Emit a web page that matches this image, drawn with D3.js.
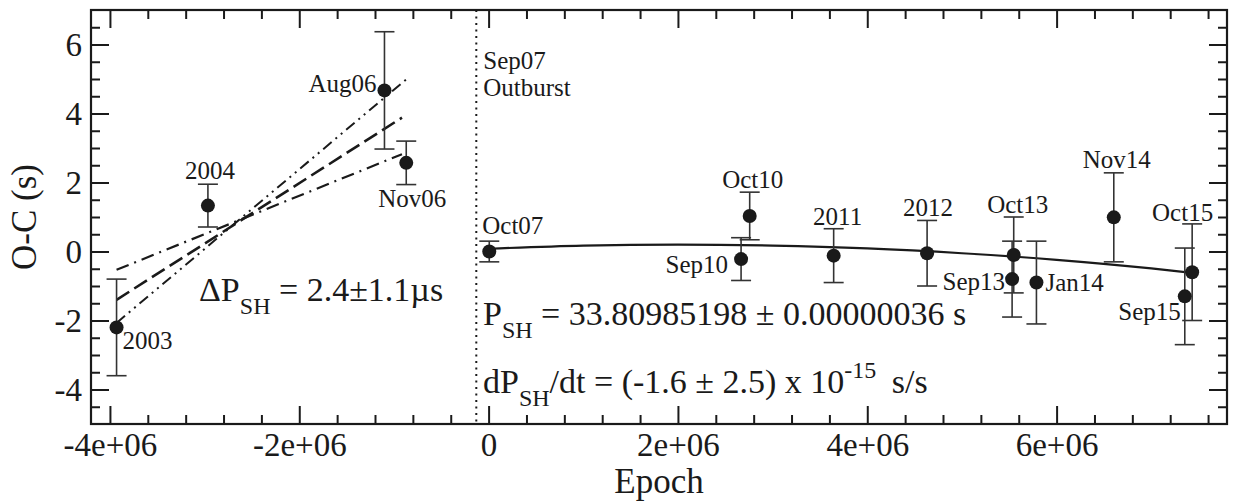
<!DOCTYPE html>
<html>
<head>
<meta charset="utf-8">
<script src="https://cdn.jsdelivr.net/npm/d3@7"></script>
<style>
  html, body { margin: 0; padding: 0; background: #fff; }
  svg { display: block; }
</style>
</head>
<body>
<svg id="chart" width="1233" height="503"></svg>
<script>
// ---------- data ----------
const preEpoch  = [-3.93e6, -2.965e6, -1.10e6, -0.87e6];
const preOC     = [-2.2, 1.33, 4.67, 2.57];
const preErr    = [1.4, 0.62, 1.7, 0.63];
const preLabels = ["2003", "2004", "Aug06", "Nov06"];

const postEpoch  = [0.007e6, 2.667e6, 2.758e6, 3.645e6, 4.632e6, 5.53e6, 5.547e6, 5.787e6, 6.604e6, 7.354e6, 7.432e6];
const postOC     = [0.0, -0.22, 1.03, -0.12, -0.05, -0.8, -0.1, -0.9, 0.99, -1.3, -0.6];
const postErr    = [0.3, 0.62, 0.69, 0.78, 0.95, 1.1, 1.1, 1.2, 1.29, 1.4, 1.4];
const postLabels = ["Oct07", "Sep10", "Oct10", "2011", "2012", "Sep13", "Oct13", "Jan14", "Nov14", "Sep15", "Oct15"];

// fitted timing solution after the outburst
const fitEpoch = [0, 1e6, 2e6, 3e6, 4e6, 5e6, 6e6, 7e6, 7.43e6];
const fitOC    = [0.08, 0.17, 0.20, 0.17, 0.09, -0.05, -0.24, -0.49, -0.62];

// pre-outburst linear fits: [epoch start, O-C start, epoch end, O-C end]
const fitDashed     = [-3.93e6, -1.40, -0.915e6, 3.88];
const fitDashDotDot = [-3.93e6, -2.07, -0.87e6, 4.99];
const fitDashDot    = [-3.93e6, -0.53, -0.915e6, 2.82];

const outburstEpoch = -0.13e6;

const xTicks = [-4e6, -2e6, 0, 2e6, 4e6, 6e6];
const xTickLabels = ["-4e+06", "-2e+06", "0", "2e+06", "4e+06", "6e+06"];
const yTicks = [-4, -2, 0, 2, 4, 6];
const yTickLabels = ["-4", "-2", "0", "2", "4", "6"];

// ---------- layout ----------
const FONT = "'Liberation Serif', 'Times New Roman', Times, 'DejaVu Serif', serif";
const L = 91, R = 1227, T = 10, B = 424;
const svg = d3.select("#chart").attr("font-family", FONT);
const x = d3.scaleLinear().domain([-4.2e6, 7.8e6]).range([L, R]);
const y = d3.scaleLinear().domain([-5, 7]).range([B, T]);

const ink = "#1a1a1a";

// minor tick values
const xMinor = d3.range(-4.0e6, 7.8e6 + 1, 0.4e6).filter(v => !xTicks.some(t => Math.abs(t - v) < 1));
const yMinor = d3.range(-5, 7.001, 0.5).filter(v => !yTicks.includes(v) && v > -5 && v < 7);

function drawAxis(axisGen, transform) {
  const g = svg.append("g").attr("transform", transform).call(axisGen);
  g.attr("font-family", FONT);
  g.select(".domain").remove();
  g.selectAll("line").attr("stroke", ink).attr("stroke-width", 2);
  return g;
}
// bottom
drawAxis(d3.axisBottom(x).tickValues(xTicks).tickSize(-18).tickFormat((d, i) => xTickLabels[i]).tickPadding(11), `translate(0,${B})`)
  .selectAll("text").attr("font-size", 33).attr("fill", ink).attr("dy", "0.63em").attr("font-family", FONT);
drawAxis(d3.axisBottom(x).tickValues(xMinor).tickSize(-9).tickFormat(""), `translate(0,${B})`);
// top
drawAxis(d3.axisTop(x).tickValues(xTicks).tickSize(-18).tickFormat(""), `translate(0,${T})`);
drawAxis(d3.axisTop(x).tickValues(xMinor).tickSize(-9).tickFormat(""), `translate(0,${T})`);
// left
drawAxis(d3.axisLeft(y).tickValues(yTicks).tickSize(-18).tickFormat((d, i) => yTickLabels[i]).tickPadding(9), `translate(${L},0)`)
  .selectAll("text").attr("font-size", 33).attr("fill", ink).attr("font-family", FONT);
drawAxis(d3.axisLeft(y).tickValues(yMinor).tickSize(-9).tickFormat(""), `translate(${L},0)`);
// right
drawAxis(d3.axisRight(y).tickValues(yTicks).tickSize(-18).tickFormat(""), `translate(${R},0)`);
drawAxis(d3.axisRight(y).tickValues(yMinor).tickSize(-9).tickFormat(""), `translate(${R},0)`);

// frame
svg.append("rect").attr("x", L).attr("y", T).attr("width", R - L).attr("height", B - T)
  .attr("fill", "none").attr("stroke", ink).attr("stroke-width", 2.2);

function txt(xp, yp, s, size) {
  return svg.append("text").attr("x", xp).attr("y", yp).attr("font-size", size)
    .attr("font-family", FONT).attr("fill", ink).text(s);
}

// axis titles
txt((L + R) / 2, 493, "Epoch", 35).attr("text-anchor", "middle");
svg.append("text").attr("transform", `translate(36,${(T + B) / 2}) rotate(-90)`).attr("text-anchor", "middle")
  .attr("font-size", 35).attr("font-family", FONT).attr("fill", ink).text("O-C (s)");

// outburst marker
svg.append("line").attr("x1", x(outburstEpoch)).attr("x2", x(outburstEpoch)).attr("y1", T).attr("y2", B)
  .attr("stroke", ink).attr("stroke-width", 2).attr("stroke-dasharray", "2,4.5");

// pre-outburst fit lines
const fits = [
  { v: fitDashed, dash: "15,6", w: 2.6 },
  { v: fitDashDotDot, dash: "11,5,2,5,2,5", w: 2 },
  { v: fitDashDot, dash: "13,6,2,6", w: 2.2 }
];
svg.append("g").selectAll("line").data(fits).join("line")
  .attr("x1", d => x(d.v[0])).attr("y1", d => y(d.v[1]))
  .attr("x2", d => x(d.v[2])).attr("y2", d => y(d.v[3]))
  .attr("stroke", ink).attr("stroke-width", d => d.w)
  .attr("stroke-dasharray", d => d.dash);

// post-outburst fitted curve
const fitPts = fitEpoch.map((e, i) => [e, fitOC[i]]);
svg.append("path").datum(fitPts)
  .attr("d", d3.line().x(d => x(d[0])).y(d => y(d[1])).curve(d3.curveMonotoneX))
  .attr("fill", "none").attr("stroke", ink).attr("stroke-width", 2.2);

// data points with error bars
const pts = preEpoch.map((e, i) => ({ e, v: preOC[i], err: preErr[i], label: preLabels[i] }))
  .concat(postEpoch.map((e, i) => ({ e, v: postOC[i], err: postErr[i], label: postLabels[i] })));

const eb = svg.append("g").attr("stroke", "#333").attr("stroke-width", 1.6);
pts.forEach(p => {
  const cx = x(p.e);
  eb.append("line").attr("x1", cx).attr("x2", cx).attr("y1", y(p.v + p.err)).attr("y2", y(p.v - p.err));
  eb.append("line").attr("x1", cx - 10).attr("x2", cx + 10).attr("y1", y(p.v + p.err)).attr("y2", y(p.v + p.err));
  eb.append("line").attr("x1", cx - 10).attr("x2", cx + 10).attr("y1", y(p.v - p.err)).attr("y2", y(p.v - p.err));
});
svg.append("g").selectAll("circle").data(pts).join("circle")
  .attr("cx", d => x(d.e)).attr("cy", d => y(d.v)).attr("r", 7).attr("fill", ink);

// point labels: placement relative to the point / error bar
const place = {
  "2003":  { a: "start",  dx: 6,   ref: "pt",  dy: 22 },
  "2004":  { a: "middle", dx: 2,   ref: "top", dy: -5 },
  "Aug06": { a: "end",    dx: -8,  ref: "pt",  dy: 2 },
  "Nov06": { a: "end",    dx: 40,  ref: "bot", dy: 22 },
  "Oct07": { a: "start",  dx: -7,  ref: "top", dy: -7 },
  "Sep10": { a: "end",    dx: -13, ref: "pt",  dy: 14 },
  "Oct10": { a: "middle", dx: 3,   ref: "top", dy: -4 },
  "2011":  { a: "middle", dx: 4,   ref: "top", dy: -4 },
  "2012":  { a: "middle", dx: 1,   ref: "top", dy: -4 },
  "Sep13": { a: "end",    dx: -7,  ref: "pt",  dy: 11 },
  "Oct13": { a: "middle", dx: 4,   ref: "top", dy: -4 },
  "Jan14": { a: "start",  dx: 9,   ref: "pt",  dy: 8 },
  "Nov14": { a: "middle", dx: 3,   ref: "top", dy: -5 },
  "Sep15": { a: "end",    dx: -4,  ref: "pt",  dy: 24 },
  "Oct15": { a: "end",    dx: 21,  ref: "top", dy: -3 }
};
svg.append("g").selectAll("text").data(pts).join("text")
  .attr("font-family", FONT).attr("fill", ink)
  .attr("font-size", 25)
  .attr("text-anchor", d => place[d.label].a)
  .attr("x", d => x(d.e) + place[d.label].dx)
  .attr("y", d => {
    const pl = place[d.label];
    const base = pl.ref === "top" ? y(d.v + d.err) : pl.ref === "bot" ? y(d.v - d.err) : y(d.v);
    return base + pl.dy;
  })
  .text(d => d.label);

// outburst note
txt(x(outburstEpoch) + 7, 69, "Sep07", 25);
txt(x(outburstEpoch) + 7, 96, "Outburst", 25);

// annotations with subscripts
function subText(xp, yp, parts) {
  const t = svg.append("text").attr("x", xp).attr("y", yp).attr("font-size", 34)
    .attr("font-family", FONT).attr("fill", ink);
  parts.forEach(p => {
    const s = t.append("tspan").text(p.t);
    if (p.sub) s.attr("font-size", 24).attr("dy", 13);
    if (p.up) s.attr("font-size", 24).attr("dy", -15);
    if (p.back) s.attr("dy", p.back);
    if (p.gap) s.attr("dx", p.gap);
  });
  return t;
}
subText(199, 301, [{ t: "\u0394P" }, { t: "SH", sub: true }, { t: " = 2.4\u00b11.1\u00b5s", back: -13 }]);
subText(483, 325, [{ t: "P" }, { t: "SH", sub: true }, { t: " = 33.80985198 \u00b1 0.00000036 s", back: -13 }]);
subText(483, 393, [{ t: "dP" }, { t: "SH", sub: true }, { t: "/dt = (-1.6 \u00b1 2.5) x 10", back: -13 }, { t: "-15", up: true }, { t: "\u00a0s/s", back: 15, gap: 7 }]);
</script>
</body>
</html>
